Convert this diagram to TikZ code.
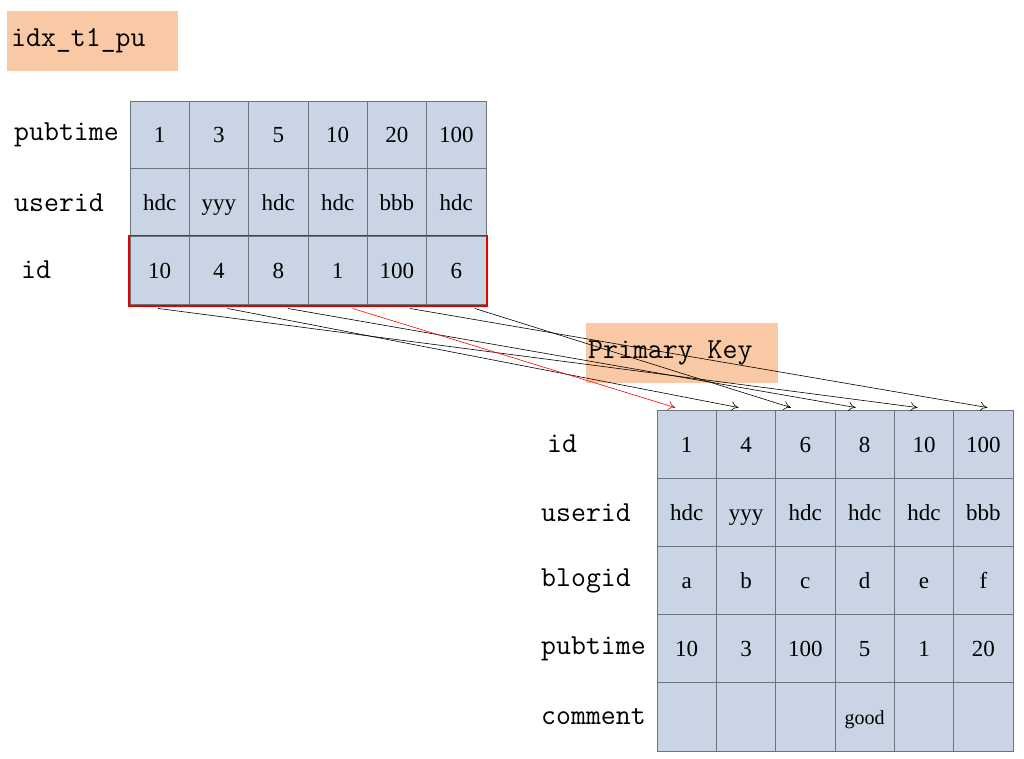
\documentclass[tikz,border=0pt]{standalone}
\usepackage{fontspec}
\setmainfont{Liberation Serif}
\usetikzlibrary{arrows.meta}
\definecolor{cellfill}{HTML}{C9D5E4}
\definecolor{celledge}{HTML}{6E747C}
\definecolor{peach}{HTML}{F8C9A4}
\tikzset{
  cellbox/.style={draw=celledge, line width=0.9pt, fill=cellfill, inner sep=0pt,
    minimum width=59.33pt, text height=16pt, text depth=0pt,
    font=\fontsize{23}{23}\selectfont},
  toprow/.style={cellbox, minimum height=67.67pt},
  botrow/.style={cellbox, minimum height=68.2pt},
  rowlabel/.style={anchor=west, inner sep=0pt, font=\ttfamily\fontsize{29}{29}\selectfont},
  tagbox/.style={fill=peach, inner sep=0pt},
  tagtext/.style={anchor=west, inner sep=0pt, font=\ttfamily\fontsize{29}{29}\selectfont},
  link/.style={line width=0.6pt, -{To[length=7pt,width=9pt]}},
}
\begin{document}
\begin{tikzpicture}[x=1pt,y=-1pt]
\useasboundingbox (0,0) rectangle (1024,758);
% tag boxes
\node[tagbox, minimum width=171pt, minimum height=60pt] (tagA) at (92.5,41) {};
\node[tagtext] (tagAt) at (11,41) {idx\_t1\_pu};
\node[tagbox, minimum width=192pt, minimum height=60pt] (tagB) at (682,353) {};
\node[tagtext] (tagBt) at (588,353) {Primary Key};
% top table
\foreach \r/\lab/\lx/\vals in {1/pubtime/14/{1,3,5,10,20,100},
                               2/userid/14/{hdc,yyy,hdc,hdc,bbb,hdc},
                               3/id/21/{10,4,8,1,100,6}} {
  \node[rowlabel] (al\r) at (\lx,{101+67.67*(\r-0.5)}) {\lab};
  \foreach \v [count=\c] in \vals {
    \node[toprow] (a\r\c) at ({130+59.33*(\c-0.5)},{101+67.67*(\r-0.5)}) {\v};
  }
}
\draw[red!90!black, line width=1.2pt] ([xshift=-0.6pt]a31.north west) rectangle ([xshift=0.6pt,yshift=-1.5pt]a36.south east);
% bottom table
\foreach \r/\lab/\lx/\vals in {1/id/547/{1,4,6,8,10,100},
                               2/userid/541/{hdc,yyy,hdc,hdc,hdc,bbb},
                               3/blogid/541/{a,b,c,d,e,f},
                               4/pubtime/541/{10,3,100,5,1,20},
                               5/comment/541/{{},{},{},{\fontsize{20}{20}\selectfont good},{},{}}} {
  \node[rowlabel] (bl\r) at (\lx,{410+68.2*(\r-0.5)}) {\lab};
  \foreach \v [count=\c] in \vals {
    \node[botrow] (b\r\c) at ({657+59.33*(\c-0.5)},{410+68.2*(\r-0.5)}) {\v};
  }
}
% start and end points of the links
\coordinate (s1) at ([xshift=-1.5pt,yshift=-4pt]a31.south);
\coordinate (s2) at ([xshift=8.5pt,yshift=-4pt]a32.south);
\coordinate (s3) at ([xshift=9.5pt,yshift=-4pt]a33.south);
\coordinate (s4) at ([xshift=15pt,yshift=-4pt]a34.south);
\coordinate (s5) at ([xshift=13pt,yshift=-4pt]a35.south);
\coordinate (s6) at ([xshift=18.5pt,yshift=-4pt]a36.south);
\coordinate (e1) at ([xshift=-11.5pt,yshift=2pt]b11.north);
\coordinate (e2) at ([xshift=-7.5pt,yshift=2pt]b12.north);
\coordinate (e3) at ([xshift=-14.5pt,yshift=2pt]b13.north);
\coordinate (e4) at ([xshift=-9pt,yshift=2pt]b14.north);
\coordinate (e5) at ([xshift=-6.5pt,yshift=2pt]b15.north);
\coordinate (e6) at ([xshift=4pt,yshift=2pt]b16.north);
% links: id 10->10, 4->4, 8->8, 1->1 (red), 100->100, 6->6
\draw[link] (s1) -- (e5);
\draw[link] (s2) -- (e2);
\draw[link] (s3) -- (e4);
\draw[link, red] (s4) -- (e1);
\draw[link] (s5) -- (e6);
\draw[link] (s6) -- (e3);
\end{tikzpicture}
\end{document}
